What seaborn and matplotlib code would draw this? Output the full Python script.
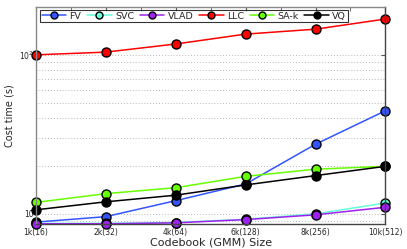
import numpy as np
import pandas as pd
import matplotlib
matplotlib.use("Agg")
import matplotlib.pyplot as plt
import seaborn as sns
from matplotlib.ticker import FixedLocator, NullFormatter

categories = ["1k(16)", "2k(32)", "4k(64)", "6k(128)", "8k(256)", "10k(512)"]
methods = ["FV", "SVC", "VLAD", "LLC", "SA-k", "VQ"]
fv = [8.87, 9.6, 12.1, 15.4, 27.4, 44.5]
svc = [8.72, 8.72, 8.82, 9.25, 10.0, 11.7]
vlad = [8.66, 8.66, 8.78, 9.2, 9.86, 11.0]
llc = [100, 104, 117, 135, 145, 168]
sak = [11.8, 13.4, 14.6, 17.2, 19.1, 19.9]
vq = [10.6, 11.9, 13.1, 15.2, 17.4, 19.9]
colors = ["#3355ff", "#66ffd9", "#a020f0", "#ff0000", "#66ff00", "#000000"]

series = [fv, svc, vlad, llc, sak, vq]
rows = []
for m, vals in zip(methods, series):
    for i, v in enumerate(vals):
        rows.append({"pos": i, "method": m, "time": v})
df = pd.DataFrame(rows)

sns.set_style("white")
plt.rcParams["font.family"] = ["DejaVu Sans"]
fig, ax = plt.subplots(figsize=(4.07, 2.49), dpi=100)
fig.subplots_adjust(left=0.088, right=0.947, top=0.972, bottom=0.1)

sns.lineplot(data=df, x="pos", y="time", hue="method", hue_order=methods,
             palette=dict(zip(methods, colors)), marker="o", markersize=6.5,
             markeredgecolor="black", markeredgewidth=1.0, linewidth=1.1,
             ax=ax, legend=True, clip_on=False)

ax.set_yscale("log")
ax.set_ylim(8.62, 200)
ax.set_xlim(0, 5)
ax.set_xticks(range(len(categories)))
ax.set_xticklabels(categories, fontsize=5.5)
ax.xaxis.set_minor_locator(FixedLocator(np.arange(0.5, 5, 1.0)))
ax.set_yticks([10, 100])
ax.set_yticklabels(["10", "$10^2$"], fontsize=5.5)
ax.yaxis.set_minor_formatter(NullFormatter())
ax.grid(True, which="both", axis="y", linestyle=(0, (1, 2.5)), color="#a0a0a0", linewidth=0.6)
ax.tick_params(which="both", direction="in", top=True, right=True, length=3, pad=1.5,
               color="#555555")
ax.tick_params(axis="x", which="major", pad=3)
ax.tick_params(which="minor", axis="y", length=0)
for s in ax.spines.values():
    s.set_color("#444444")
    s.set_linewidth(1.0)
ax.spines["left"].set_color("#888888")
ax.spines["top"].set_color("#888888")
ax.set_xlabel("Codebook (GMM) Size", fontsize=8, labelpad=0)
ax.set_ylabel("Cost time (s)", fontsize=7, labelpad=3)

h, l = ax.get_legend_handles_labels()
leg = ax.legend(h, l, ncol=6, loc="upper left", bbox_to_anchor=(0.01, 0.99),
                fontsize=6.8, frameon=True, fancybox=False, edgecolor="black",
                handlelength=2.6, handletextpad=0.35, columnspacing=0.6,
                borderpad=0.15, borderaxespad=0.1)
leg.get_frame().set_linewidth(0.8)
leg.set_zorder(10)
for lh in leg.legend_handles:
    lh.set_markersize(5)

fig.savefig("out.png", dpi=100)
